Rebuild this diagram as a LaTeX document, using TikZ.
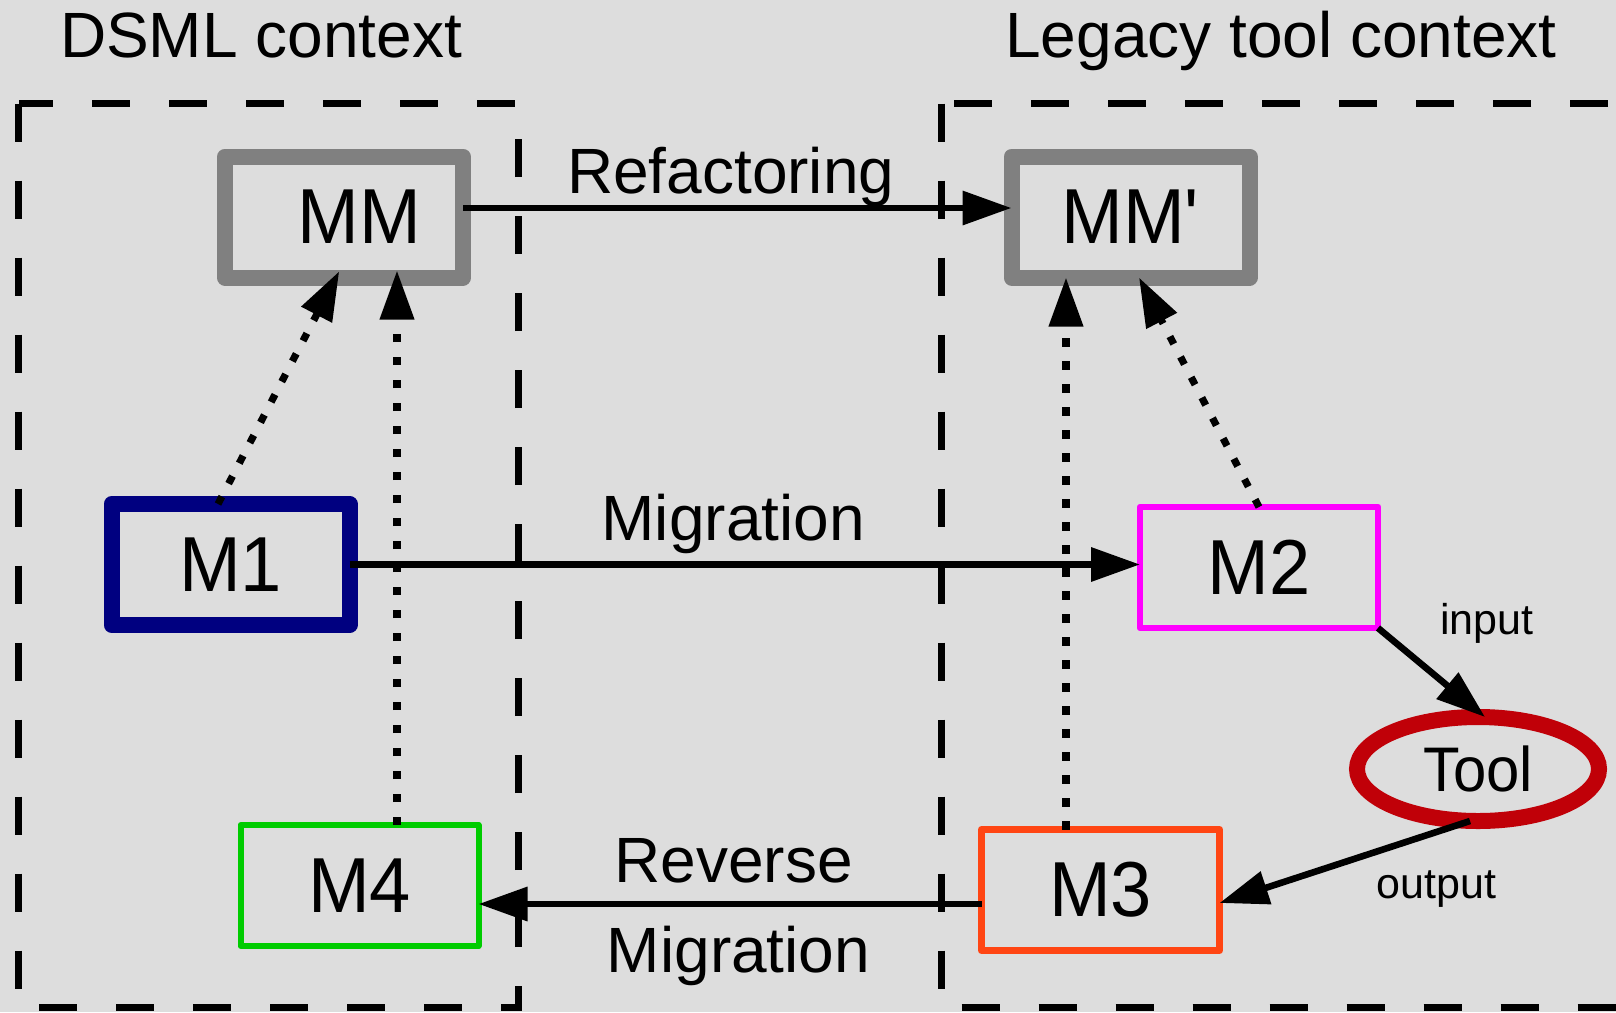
\documentclass[tikz,border=0pt]{standalone}
\usepackage{fontspec}
\setmainfont{Liberation Sans}
\newfontfamily\modelfont{Liberation Sans}[FakeStretch=0.95]
\usetikzlibrary{arrows.meta,positioning,shapes.geometric}
\definecolor{bggray}{HTML}{DDDDDD}
\definecolor{mmgray}{HTML}{808080}
\definecolor{mnavy}{HTML}{000080}
\definecolor{mmagenta}{HTML}{FF00FF}
\definecolor{morange}{HTML}{FF4513}
\definecolor{mgreen}{HTML}{00CC00}
\definecolor{toolred}{HTML}{C00008}

\begin{document}
\begin{tikzpicture}[x=0.5pt,y=-0.5pt,
  box/.style={draw,rectangle,line join=round,minimum width=119pt,minimum height=60.5pt,
    inner sep=0pt,outer sep=0pt,font=\modelfont\fontsize{39}{39}\selectfont},
  meta/.style={box,draw=mmgray,line width=8pt},
  lbl/.style={font=\fontsize{32}{32}\selectfont},
  small/.style={font=\fontsize{21.5}{21.5}\selectfont},
  rel/.style={line width=3.3pt,-{Triangle[length=24.5pt,width=16.5pt]}},
  conf/.style={rel,line width=3.6pt,dash pattern=on 4.2pt off 7.3pt},
  ctx/.style={line width=3.5pt,dash pattern=on 19pt off 19.5pt}]
\useasboundingbox (0,0) rectangle (1616,1012);
\fill[bggray] (0,0) rectangle (1616,1012);
\clip (0,0) rectangle (1616,1012);
% the two contexts
\draw[ctx] (18.5,103.5) rectangle (518,1007);
\draw[ctx] (941,103.5) rectangle (1680,1007);
\node[lbl,anchor=base] (dsml) at (261,57) {DSML context};
\node[lbl,anchor=base] (legacy) at (1281,57) {Legacy tool context};
% models
\node[meta] (mm) at (344,217) {\hspace*{15pt}MM};
\node[meta] (mmp) at (1130.5,217) {MM\textquotesingle};
\node[box,draw=mnavy,line width=8pt] (m1) at (230.5,564.5) {M1};
\node[box,draw=mmagenta,line width=3.3pt] (m2) at (1259,567.5) {M2};
\node[box,draw=morange,line width=3.5pt] (m3) at (1100.5,890) {M3};
\node[box,draw=mgreen,line width=3pt] (m4) at (359.5,885.5) {M4};
\node[ellipse,draw=toolred,line width=8pt,minimum width=121pt,minimum height=52pt,
  inner sep=0pt,outer sep=0pt,font=\modelfont\fontsize{31.5}{31.5}\selectfont] (tool) at (1478,769) {Tool};
% transformations
\draw[rel] ([yshift=4.5pt]mm.east) -- ([yshift=4.5pt]mmp.west)
  node[lbl,midway,anchor=base,xshift=-3.25pt,yshift=7.5pt] (refac) {Refactoring};
\draw[rel] (m1.east) -- (m1.east -| m2.west)
  node[lbl,midway,anchor=base,xshift=-5.75pt,yshift=12pt] (migr) {Migration};
\draw[rel] ([yshift=-7pt]m3.west) -- ([yshift=-7pt]m3.west -| m4.east)
  node[lbl,midway,anchor=base,xshift=1.75pt,yshift=11pt] (rev) {Reverse}
  node[lbl,midway,anchor=base,xshift=4.25pt,yshift=-34pt] (revmigr) {Migration};
\draw[rel] (m2.south east) -- ([xshift=3.5pt]tool.north)
  node[small,midway,xshift=27.6pt,yshift=24.75pt] (inp) {input};
\draw[rel] ([xshift=-4pt]tool.south) -- ([yshift=-6.5pt]m3.east)
  node[small,midway,xshift=46pt,yshift=-13.5pt] (outp) {output};
% conformance
\draw[conf,shorten >=-3.5pt] ([xshift=-6.25pt]m1.north) -- ([xshift=-4pt]mm.south);
\draw[conf,shorten >=-3.5pt] ([xshift=18.75pt]m4.north) -- ([xshift=18.75pt]m4.north |- mm.south);
\draw[conf] ([xshift=-17.25pt]m3.north) -- ([xshift=-17.25pt]m3.north |- mmp.south);
\draw[conf] (m2.north) -- ([xshift=4.25pt]mmp.south);
\end{tikzpicture}
\end{document}
